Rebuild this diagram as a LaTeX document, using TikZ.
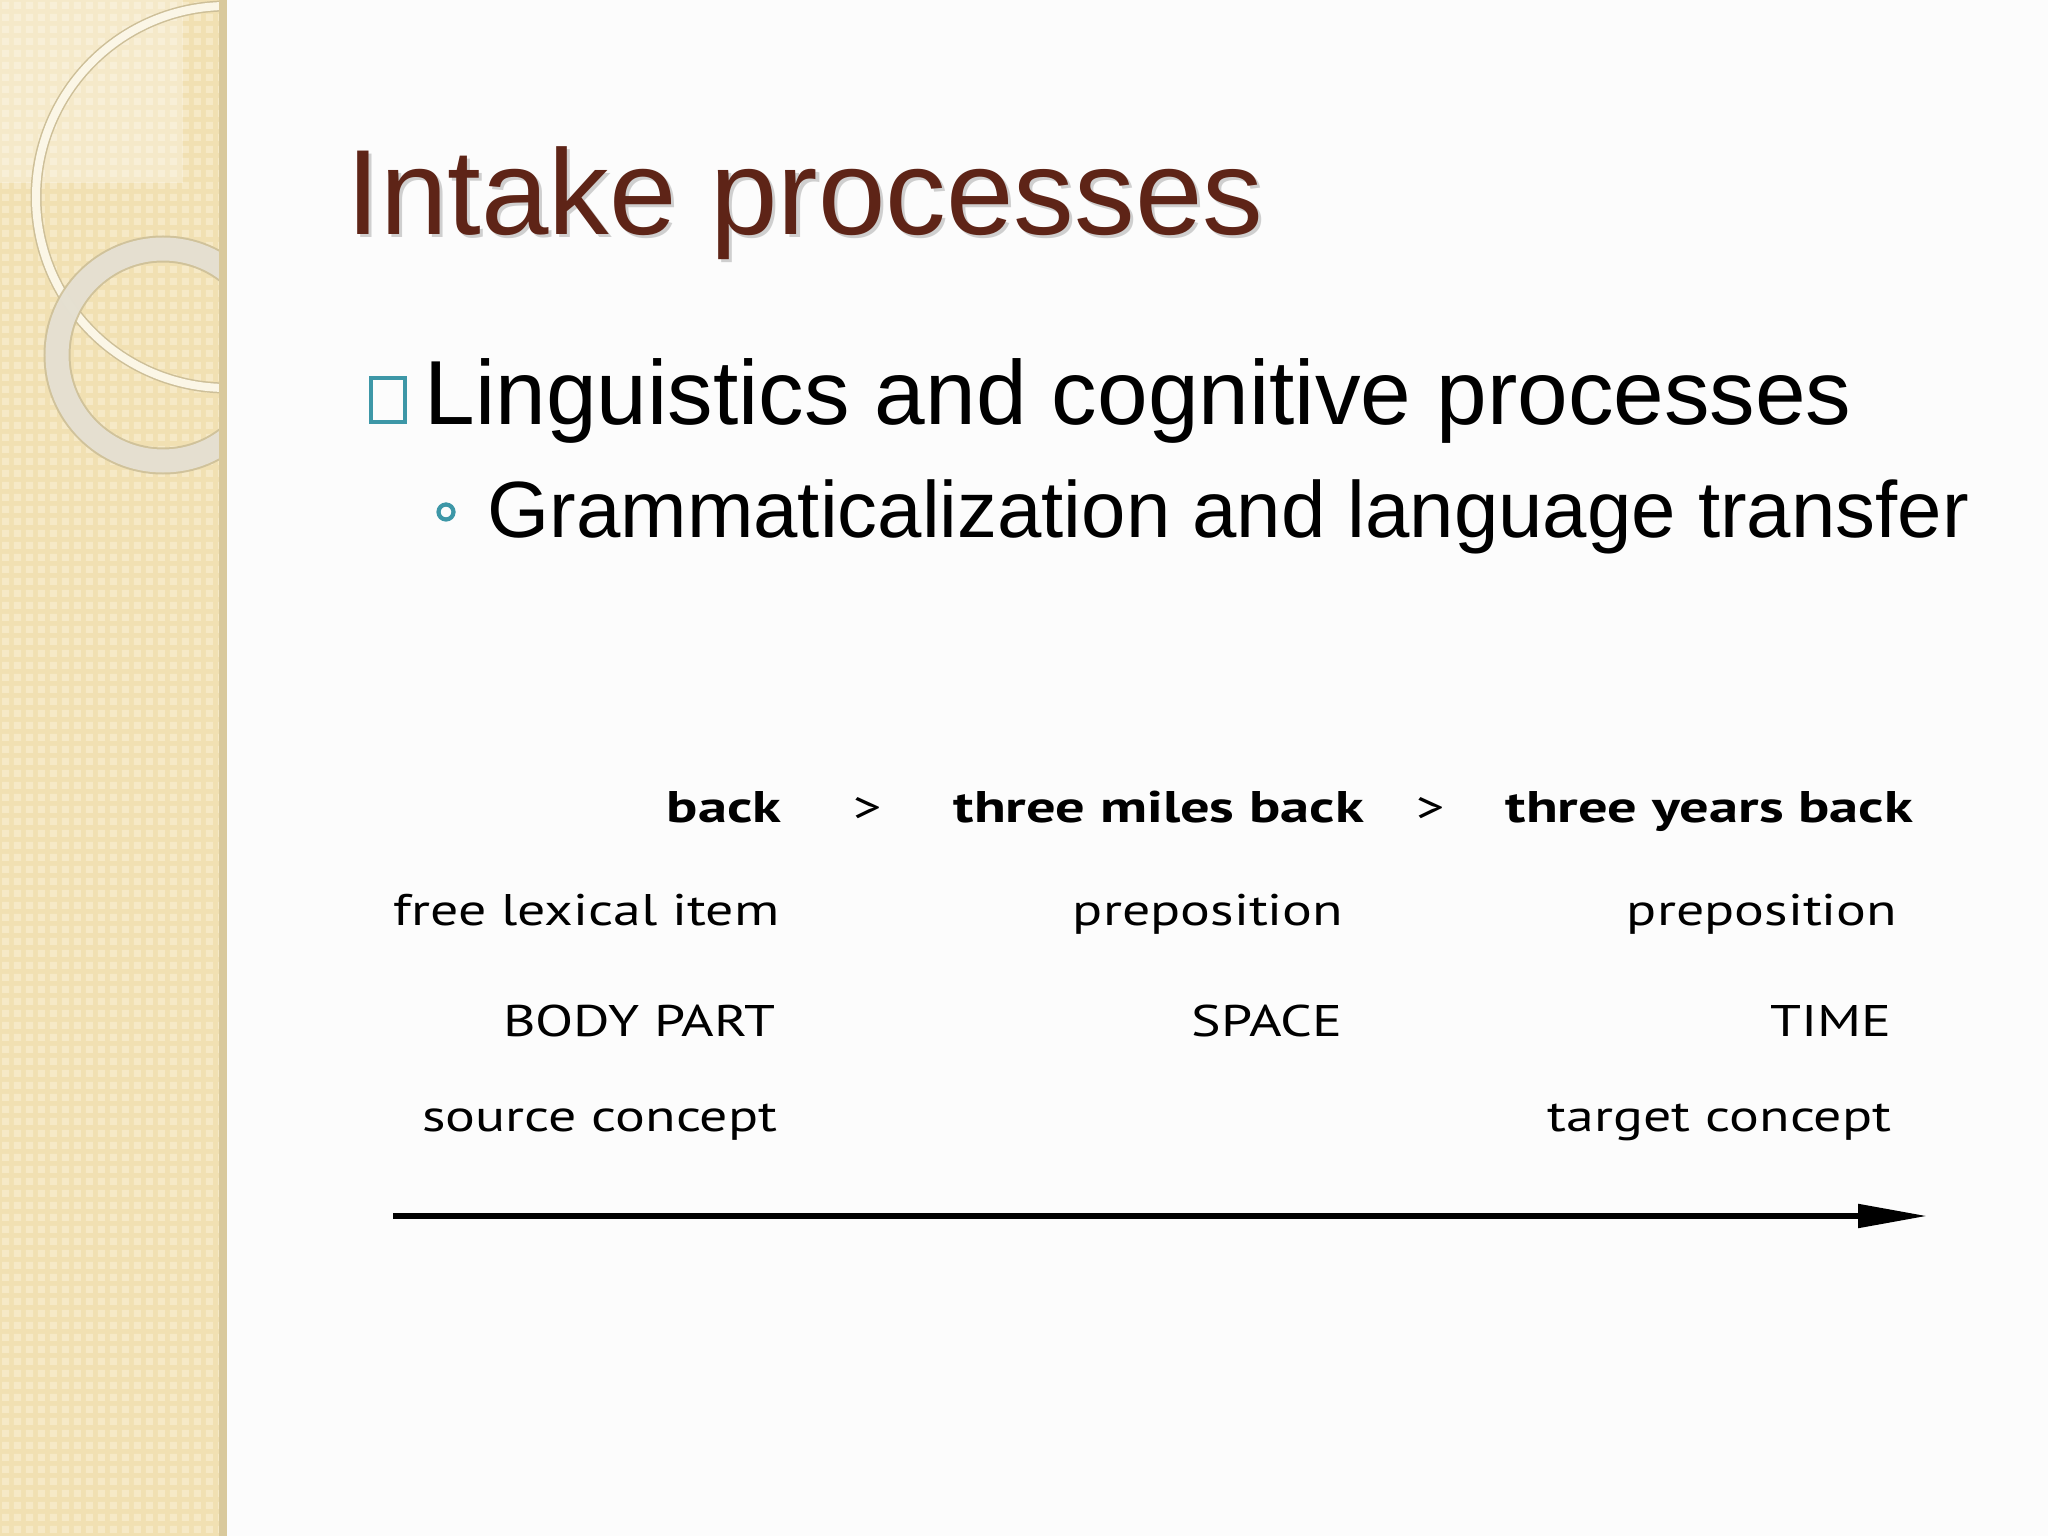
\documentclass[tikz,border=0pt]{standalone}
\usepackage{fontspec}
\setmainfont{Liberation Sans}
\newfontfamily\diagfont[FakeStretch=1.26,BoldFeatures={FakeStretch=1.32}]{PT Sans}
\usepackage{tikz}
\usetikzlibrary{arrows.meta,positioning}

\definecolor{bandtan}{HTML}{F1E0B2}
\definecolor{bandlight}{HTML}{F6E9C6}
\definecolor{bandedge}{HTML}{D9C99C}
\definecolor{ringcream}{HTML}{FBF6E6}
\definecolor{ringgray}{HTML}{E9E5DA}
\definecolor{ringline}{HTML}{CDBF98}
\definecolor{titlebrown}{HTML}{5E2417}
\definecolor{bulletteal}{HTML}{3D97A7}

\begin{document}
\begin{tikzpicture}[
    titletext/.style={font=\fontsize{34.5}{40}\selectfont,text=titlebrown,inner sep=0pt},
    leveltext/.style={inner sep=0pt,text=black},
    diag/.style={font=\diagfont\fontsize{12.6}{15}\selectfont,inner sep=0pt},
    diagbold/.style={diag,font=\diagfont\bfseries\fontsize{12.6}{15}\selectfont}]
    % slide background and bounding box
    \fill[white!99!black] (0,0) rectangle (20.48,-15.36);
    \useasboundingbox (0,0) rectangle (20.48,-15.36);
    % left band
    \fill[bandtan] (0,0) rectangle (2.27,-15.36);
    \fill[bandlight] \foreach \i in {0,...,18}{\foreach \j in {0,...,127}{
        (\i*0.12+0.02,-\j*0.12-0.02) rectangle ++(0.07,-0.07)}};
    \fill[white,opacity=0.3] (0,0) rectangle (1.83,-1.83);
    \begin{scope}
        \clip (0,0) rectangle (2.2,-15.36);
        \draw[ringline,line width=0.11cm] (2.27,-1.97) circle (1.91);
        \draw[ringcream,line width=0.08cm] (2.27,-1.97) circle (1.91);
        \draw[ringline,line width=0.27cm,opacity=0.9] (1.63,-3.55) circle (1.06);
        \draw[ringgray,line width=0.23cm,opacity=0.85] (1.63,-3.55) circle (1.06);
    \end{scope}
    \fill[bandedge] (2.19,0) rectangle (2.27,-15.36);

    % title with soft shadow
    \node[titletext,anchor=base west,text=black!30,opacity=0.6] (titleshadow) at (3.49,-2.38) {Intake processes};
    \node[titletext,anchor=base west] (title) at (3.46,-2.35) {Intake processes};

    % bullets
    \draw[bulletteal,line width=0.9pt] (3.71,-3.78) rectangle (4.05,-4.22);
    \node[leveltext,anchor=base west,font=\fontsize{25.9}{30}\selectfont] (levelone) at (4.24,-4.24) {Linguistics and cognitive processes};
    \draw[bulletteal,line width=1.2pt] (4.46,-5.12) circle (0.075);
    \node[leveltext,anchor=base west,font=\fontsize{22.7}{27}\selectfont] (leveltwo) at (4.87,-5.38) {Grammaticalization and language transfer};

    % grammaticalization chain
    \node[diagbold,anchor=base east] (back) at (7.82,-8.23) {back};
    \node[diag,anchor=base] (gtone) at (8.68,-8.23) {>};
    \node[diagbold,anchor=base west] (miles) at (9.53,-8.23) {three miles back};
    \node[diag,anchor=base] (gttwo) at (14.31,-8.23) {>};
    \node[diagbold,anchor=base west] (years) at (15.05,-8.23) {three years back};

    \node[diag,anchor=base east] (lexical) at (7.80,-9.26) {free lexical item};
    \node[diag,anchor=base east] (prepone) at (13.44,-9.26) {preposition};
    \node[diag,anchor=base east] (preptwo) at (18.98,-9.26) {preposition};

    \node[diag,anchor=base east] (body) at (7.76,-10.36) {BODY PART};
    \node[diag,anchor=base east] (space) at (13.43,-10.36) {SPACE};
    \node[diag,anchor=base east] (time) at (18.92,-10.36) {TIME};

    \node[diag,anchor=base east] (source) at (7.78,-11.31) {source concept};
    \node[diag,anchor=base east] (target) at (18.92,-11.31) {target concept};

    % axis
    \coordinate (axisstart) at (3.93,-12.16);
    \coordinate (axisend) at (19.27,-12.16);
    \draw[line width=1.5pt,-{Triangle[length=0.69cm,width=0.23cm]}] (axisstart) -- (axisend);
\end{tikzpicture}
\end{document}
